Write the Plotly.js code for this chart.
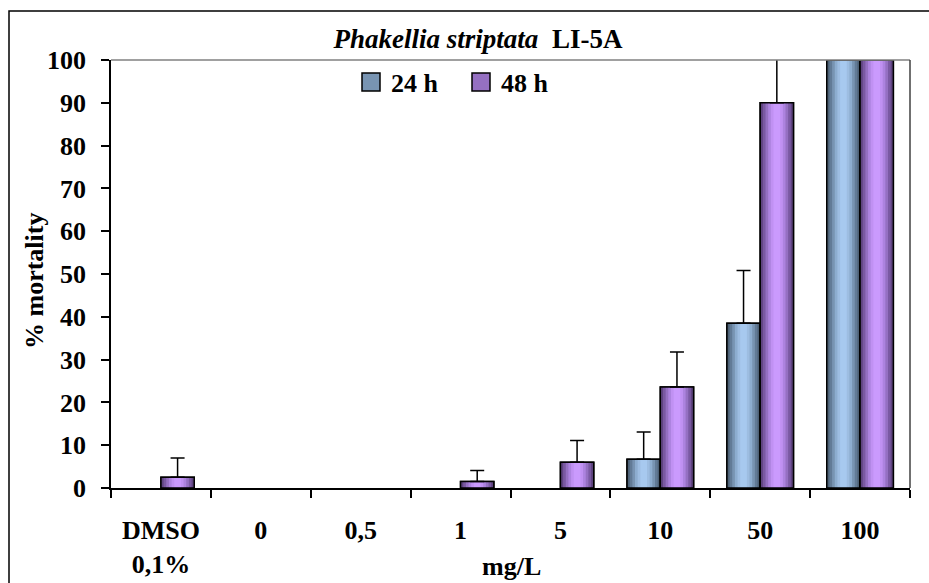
<!DOCTYPE html>
<html>
<head>
<meta charset="utf-8">
<script src="https://cdn.plot.ly/plotly-3.0.1.min.js"></script>
<style>
  html, body { margin: 0; padding: 0; background: #ffffff; }
  #chart { width: 929px; height: 583px; }
</style>
</head>
<body>
<div id="chart"></div>
<script>
// Concentration groups on the x axis
const categories = ['DMSO<br>0,1%', '0', '0,5', '1', '5', '10', '50', '100'];

// Mean % mortality after 24 h and 48 h of exposure
const mortality24 = [0, 0, 0, 0, 0, 6.7, 38.5, 100];
const mortality48 = [2.5, 0, 0, 1.5, 6, 23.6, 90, 100];

// Upper error bars (null = no error bar shown)
const error24 = [null, null, null, null, null, 6.4, 12.3, null];
const error48 = [4.5, null, null, 2.6, 5.1, 8.2, 12, null];

const seriesNames = ['24 h', '48 h'];

// Styling: cylinder-like shading built from nested bars, darker at the edges
const FONT = '"Liberation Serif", "Times New Roman", serif';
const shades24 = ['#4d6176', '#627b96', '#7894b2', '#8dadcf', '#9dbde1', '#a7c9ef'];
const shades48 = ['#5f4480', '#7a59a2', '#9570c2', '#ad83df', '#c091f2', '#ca9afd'];
const bandFractions = [1, 0.84, 0.68, 0.52, 0.36, 0.2];
const BAR_W = 1 / 3;

function toPlus(err) { return err.map(v => (v === null ? NaN : v)); }
function toMinus(err) { return err.map(v => (v === null ? NaN : 0)); }
// no outline for empty bars
function outlineWidths(values, w) { return values.map(v => (v > 0 ? w : 0)); }

function seriesTraces(name, values, errors, offset, shades) {
  const traces = bandFractions.map((f, k) => ({
    type: 'bar',
    name: name,
    legendgroup: name,
    showlegend: k === 0,
    x: categories,
    y: values,
    width: BAR_W * f,
    offset: offset + BAR_W * (1 - f) / 2,
    marker: {
      color: k === 0 ? shades[2] : shades[k],
      line: { color: '#000000', width: k === 0 ? outlineWidths(values, 1.5) : 0 }
    },
    hoverinfo: 'skip'
  }));
  // darkest rim drawn right after the legend layer
  traces.splice(1, 0, {
    type: 'bar', name: name, legendgroup: name, showlegend: false,
    x: categories, y: values, width: BAR_W, offset: offset,
    marker: { color: shades[0], line: { width: 0 } }, hoverinfo: 'skip'
  });
  // outline and upper error bars on top
  traces.push({
    type: 'bar',
    name: name,
    legendgroup: name,
    showlegend: false,
    x: categories,
    y: values,
    width: BAR_W,
    offset: offset,
    marker: { color: 'rgba(0,0,0,0)', line: { color: '#000000', width: outlineWidths(values, 1.5) } },
    error_y: {
      type: 'data',
      symmetric: false,
      array: toPlus(errors),
      arrayminus: toMinus(errors),
      color: '#000000',
      thickness: 1.5,
      width: 7
    },
    hoverinfo: 'x+y'
  });
  return traces;
}

const data = [].concat(
  seriesTraces(seriesNames[0], mortality24, error24, -BAR_W, shades24),
  seriesTraces(seriesNames[1], mortality48, error48, 0, shades48)
);

const W = 929, H = 583;
const L = 111, R = 19, T = 60, B = 95;
const pw = W - L - R, ph = H - T - B;
const px = x => (x - L) / pw;          // pixel -> paper x
const py = y => (H - B - y) / ph;      // pixel -> paper y

const layout = {
  width: W,
  height: H,
  margin: { l: L, r: R, t: T, b: B, pad: 0 },
  paper_bgcolor: '#ffffff',
  plot_bgcolor: '#ffffff',
  barmode: 'overlay',
  font: { family: FONT, size: 26, color: '#000000', weight: 700 },
  title: {
    text: '<i>Phakellia striptata</i>&nbsp;&nbsp;LI-5A',
    font: { family: FONT, size: 27, color: '#000000', weight: 700 },
    xref: 'container', yref: 'container',
    x: 478 / W, y: 1 - 39 / H,
    xanchor: 'center', yanchor: 'middle'
  },
  showlegend: true,
  legend: {
    orientation: 'h',
    x: px(351), y: py(82),
    xanchor: 'left', yanchor: 'middle',
    bgcolor: 'rgba(0,0,0,0)',
    font: { family: FONT, size: 26, color: '#000000', weight: 700 },
    traceorder: 'normal',
    entrywidth: 65,
    entrywidthmode: 'pixels',
    itemwidth: 30
  },
  xaxis: {
    type: 'category',
    tickson: 'boundaries',
    ticks: 'outside',
    ticklen: 8,
    tickwidth: 1.5,
    tickcolor: '#000000',
    showline: true,
    linecolor: '#000000',
    linewidth: 1.5,
    showgrid: false,
    zeroline: false,
    ticklabelstandoff: 18,
    tickfont: { family: FONT, size: 26, color: '#000000', weight: 700 },
    fixedrange: true
  },
  yaxis: {
    range: [0, 100],
    dtick: 10,
    ticks: 'outside',
    ticklen: 8,
    tickwidth: 1.5,
    tickcolor: '#000000',
    showline: true,
    linecolor: '#000000',
    linewidth: 1.5,
    showgrid: false,
    zeroline: false,
    ticklabelstandoff: 10,
    tickfont: { family: FONT, size: 26, color: '#000000', weight: 700 },
    fixedrange: true
  },
  annotations: [
    {
      text: '% mortality',
      textangle: -90,
      xref: 'paper', yref: 'paper',
      x: px(34), y: py(281),
      xanchor: 'center', yanchor: 'middle',
      showarrow: false,
      font: { family: FONT, size: 26, color: '#000000', weight: 700 }
    },
    {
      text: 'mg/L',
      xref: 'paper', yref: 'paper',
      x: px(512), y: py(566),
      xanchor: 'center', yanchor: 'middle',
      showarrow: false,
      font: { family: FONT, size: 26, color: '#000000', weight: 700 }
    }
  ],
  shapes: [
    // plot frame: top and right edges
    { type: 'line', xref: 'paper', yref: 'paper', x0: 0, x1: 1, y0: 1, y1: 1,
      line: { color: '#808080', width: 1.5 } },
    { type: 'line', xref: 'paper', yref: 'paper', x0: 1, x1: 1, y0: 0, y1: 1,
      line: { color: '#404040', width: 1.5 } },
    // outer chart border
    { type: 'rect', xref: 'paper', yref: 'paper',
      x0: px(9), x1: px(W + 10), y0: py(11), y1: py(H + 10),
      line: { color: '#000000', width: 1.5 }, fillcolor: 'rgba(0,0,0,0)', layer: 'above' }
  ]
};

Plotly.newPlot('chart', data, layout, { displayModeBar: false, responsive: false }).then(gd => {
  // larger outlined legend swatches
  gd.querySelectorAll('.legend .legendpoints path').forEach(p => {
    p.setAttribute('d', 'M9,9H-9V-9H9Z');
    p.style.stroke = '#000000';
    p.style.strokeWidth = '1.5px';
  });
});
</script>
</body>
</html>
